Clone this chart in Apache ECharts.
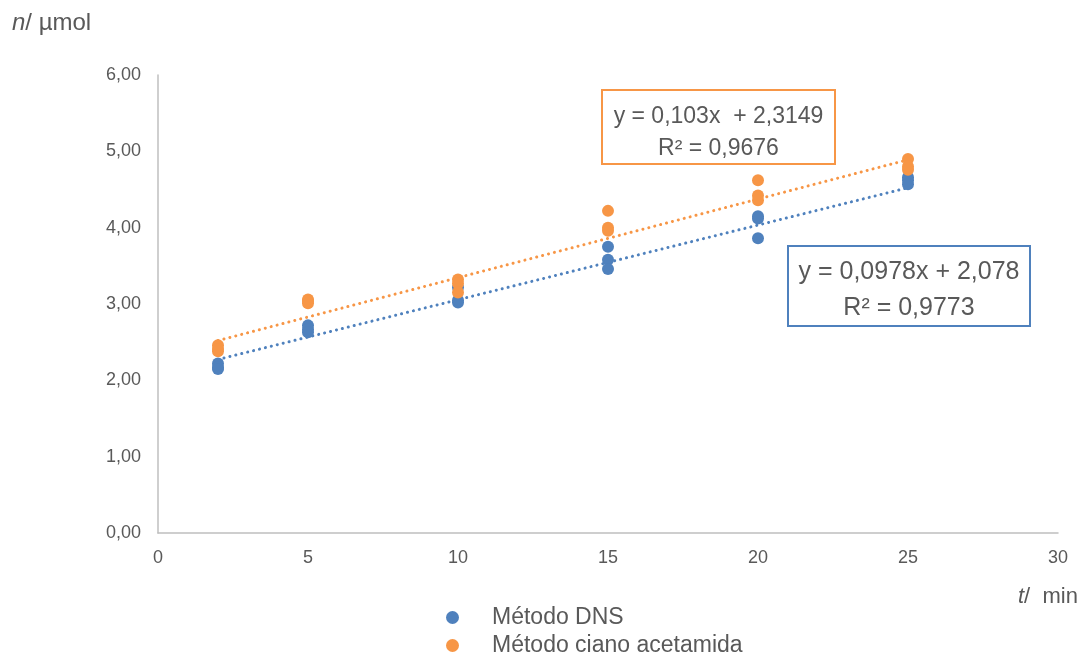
<!DOCTYPE html>
<html>
<head>
<meta charset="utf-8">
<script src="https://cdn.jsdelivr.net/npm/echarts@6/dist/echarts.min.js"></script>
<style>html,body{margin:0;padding:0;background:#fff}#c{width:1090px;height:659px}</style>
</head>
<body>
<div id="c"></div>
<script>
// ---- data ----
const times = [2,2,2, 5,5,5, 10,10,10, 15,15,15, 20,20,20, 25,25,25];
const dnsValues = [2.22,2.17,2.15, 2.72,2.67,2.63, 3.02,3.05,3.22, 3.75,3.58,3.46, 4.15,4.12,3.86, 4.66,4.62,4.57];
const cianoValues = [2.46,2.41,2.38, 3.06,3.04,3.01, 3.32,3.27,3.15, 4.22,4.00,3.96, 4.62,4.42,4.36, 4.90,4.80,4.76];
const xTicks = [0,5,10,15,20,25,30];
const yTicks = [0,1,2,3,4,5,6];
const seriesNames = ['Método DNS','Método ciano acetamida'];
const dnsFit = {slope:0.0978, intercept:2.078, r2:'0,9773', label:'y = 0,0978x + 2,078'};
const cianoFit = {slope:0.103, intercept:2.3149, r2:'0,9676', label:'y = 0,103x  + 2,3149'};
const fitRange = [2,25];

const blue = '#4F81BD', orange = '#F79646', txt = '#595959';
const FONT = 'Liberation Sans, Arial, sans-serif';
const pts = (vals) => times.map((t,i)=>[t, vals[i]]);
const fitLine = (f) => fitRange.map(x=>[x, f.slope*x + f.intercept]);
const legendBase = {left:441, itemWidth:13, itemHeight:13, icon:'circle',
  textStyle:{color:txt, fontSize:23, fontFamily:FONT, padding:[0,0,0,28]}};

const chart = echarts.init(document.getElementById('c'), null, {renderer:'canvas'});
chart.setOption({
  animation:false,
  backgroundColor:'#fff',
  grid:{left:158, right:32, top:75, bottom:126, containLabel:false},
  xAxis:{type:'value', min:xTicks[0], max:xTicks[xTicks.length-1], interval:5,
    axisLine:{show:true, lineStyle:{color:'#BFBFBF', width:1.5}},
    axisTick:{show:false}, splitLine:{show:false},
    axisLabel:{color:txt, fontSize:18, fontFamily:FONT, margin:16}},
  yAxis:{type:'value', min:yTicks[0], max:yTicks[yTicks.length-1], interval:1,
    axisLine:{show:true, lineStyle:{color:'#BFBFBF', width:1.5}},
    axisTick:{show:false}, splitLine:{show:false},
    axisLabel:{color:txt, fontSize:18, fontFamily:FONT, margin:17,
      formatter:v=>v.toFixed(2).replace('.',',')}},
  legend:[
    Object.assign({top:601, data:[seriesNames[0]]}, legendBase),
    Object.assign({top:629, data:[seriesNames[1]]}, legendBase)
  ],
  series:[
    {name:seriesNames[0], type:'scatter', data:pts(dnsValues), symbolSize:12,
      itemStyle:{color:blue, opacity:1}, z:3},
    {name:seriesNames[1], type:'scatter', data:pts(cianoValues), symbolSize:12,
      itemStyle:{color:orange, opacity:1}, z:3},
    {name:'fitDNS', type:'line', data:fitLine(dnsFit), symbol:'none', silent:true,
      lineStyle:{color:blue, width:3, type:[0.1,6], cap:'round'}, z:2},
    {name:'fitCiano', type:'line', data:fitLine(cianoFit), symbol:'none', silent:true,
      lineStyle:{color:orange, width:3, type:[0.1,6], cap:'round'}, z:2}
  ],
  graphic:[
    {type:'text', left:12, top:11, style:{rich:{i:{fontStyle:'italic', fontSize:24, fontFamily:FONT, fill:txt}, n:{fontSize:24, fontFamily:FONT, fill:txt}}, text:'{i|n}{n|/ µmol}'}},
    {type:'text', left:1018, top:586, style:{rich:{i:{fontStyle:'italic', fontSize:22, fontFamily:FONT, fill:txt}, n:{fontSize:22, fontFamily:FONT, fill:txt}}, text:'{i|t}{n|/  min}'}},
    {type:'group', left:601, top:89, children:[
      {type:'rect', shape:{x:0,y:0,width:233,height:74}, style:{fill:'#fff', stroke:orange, lineWidth:2}},
      {type:'text', x:116.5, y:27, style:{text:cianoFit.label, fill:txt, fontSize:23, fontFamily:FONT, align:'center', verticalAlign:'middle'}},
      {type:'text', x:116.5, y:59, style:{text:'R² = '+cianoFit.r2, fill:txt, fontSize:23, fontFamily:FONT, align:'center', verticalAlign:'middle'}}
    ]},
    {type:'group', left:787, top:245, children:[
      {type:'rect', shape:{x:0,y:0,width:242,height:80}, style:{fill:'#fff', stroke:blue, lineWidth:2}},
      {type:'text', x:121, y:26, style:{text:dnsFit.label, fill:txt, fontSize:25, fontFamily:FONT, align:'center', verticalAlign:'middle'}},
      {type:'text', x:121, y:62, style:{text:'R² = '+dnsFit.r2, fill:txt, fontSize:25, fontFamily:FONT, align:'center', verticalAlign:'middle'}}
    ]}
  ]
});
</script>
</body>
</html>
